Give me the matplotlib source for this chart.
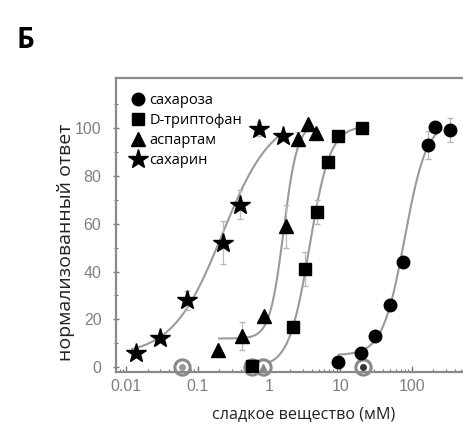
import numpy as np
import matplotlib.pyplot as plt
from matplotlib.ticker import FixedLocator, LogLocator, NullFormatter

plt.rcParams['font.family'] = ['Open Sans', 'DejaVu Sans']

# concentrations (mM) and normalised responses
sucrose_x = [9.4, 19.3, 30.7, 50, 75, 168, 213, 346]
sucrose_y = [2, 6, 13, 26, 44, 93, 100.5, 99.4]
sucrose_err = [0, 0, 0, 0, 0, 6, 0, 5]

trp_x = [0.58, 2.15, 3.2, 4.67, 6.8, 9.4, 20.4]
trp_y = [0.5, 17, 41, 65, 86, 96.6, 100.3]
trp_err = [0, 0, 7, 5, 0, 0, 0]

asp_x = [0.195, 0.414, 0.85, 1.73, 2.55, 3.56, 4.56]
asp_y = [7, 13, 21.5, 59, 95.5, 101.8, 98]
asp_err = [0, 6, 0, 9, 3, 0, 0]

sac_x = [0.0136, 0.030, 0.070, 0.229, 0.392, 0.73, 1.56]
sac_y = [6, 12, 28, 52, 68, 99.7, 96.6]
sac_err = [0, 0, 4, 9, 6, 3, 0]

# Hill fit parameters: bottom, top, EC50, slope, x range of the fitted line
sucrose_fit = (5, 103, 80, 2.8, 9.5, 260)
trp_fit = (0, 101, 3.7, 3.0, 0.9, 20)
asp_fit = (12, 102, 1.6, 4.5, 0.2, 3.3)
sac_fit = (5, 106, 0.22, 1.25, 0.012, 1.45)

# detection thresholds on the x axis
thr_x = [0.06, 0.58, 0.83, 21]
thr_inner = ['o', 's', '^', 'o']
thr_inner_color = ['#999999', '#888888', '#888888', '#333333']

labels = ['сахароза', 'D-триптофан', 'аспартам', 'сахарин']


def hill(x, bottom, top, ec50, n):
    return bottom + (top - bottom) / (1 + (ec50 / x) ** n)


fig = plt.figure(figsize=(4.64, 4.34), dpi=100)
ax = fig.add_axes([0.25, 0.143, 0.75, 0.677])

grey = '#9a9a9a'
series = [
    (sucrose_x, sucrose_y, sucrose_err, sucrose_fit, 'o', 9),
    (trp_x, trp_y, trp_err, trp_fit, 's', 8.5),
    (asp_x, asp_y, asp_err, asp_fit, '^', 10),
    (sac_x, sac_y, sac_err, sac_fit, '*', 15),
]

for (xs, ys, err, fit, m, ms), lab in zip(series, labels):
    b, t, ec, n, x0, x1 = fit
    xx = np.logspace(np.log10(x0), np.log10(x1), 200)
    ax.plot(xx, hill(xx, b, t, ec, n), color=grey, lw=1.5, zorder=1)
    ax.errorbar(xs, ys, yerr=err, fmt='none', ecolor='#b8b8b8',
                elinewidth=0.9, capsize=2.5, zorder=2)
    ax.plot(xs, ys, ls='none', marker=m, ms=ms, color='black',
            label=lab, zorder=3)

for x, m, c in zip(thr_x, thr_inner, thr_inner_color):
    ax.plot([x], [0], marker='o', ms=11, mfc='white', mec='#8a8a8a',
            mew=2.2, ls='none', zorder=2.5, clip_on=False)
    ax.plot([x], [0], marker=m, ms=4, color=c, ls='none', zorder=2.6,
            clip_on=False)

ax.set_xscale('log')
ax.set_xlim(0.00714, 543)
ax.set_ylim(-2, 121)

ax.xaxis.set_major_locator(FixedLocator([0.01, 0.1, 1, 10, 100]))
ax.set_xticklabels(['0.01', '0.1', '1', '10', '100'])
ax.xaxis.set_minor_locator(LogLocator(base=10, subs=np.arange(2, 10)))
ax.xaxis.set_minor_formatter(NullFormatter())
ax.set_yticks([0, 20, 40, 60, 80, 100])
ax.set_yticks(np.arange(10, 120, 20), minor=True)

ax.tick_params(axis='both', which='both', colors='#777777',
               labelcolor='#808080', labelsize=11.5)
ax.tick_params(axis='x', which='major', direction='in', length=4, width=1, pad=5)
ax.tick_params(axis='x', which='minor', direction='in', length=2.5, width=0.8)
ax.tick_params(axis='y', which='major', direction='inout', length=5, width=1,
               pad=8)
ax.tick_params(axis='y', which='minor', direction='inout', length=3, width=0.8)
for lab in ax.get_xticklabels() + ax.get_yticklabels():
    lab.set_family(['Liberation Sans', 'DejaVu Sans'])

for side in ['left', 'bottom', 'top']:
    ax.spines[side].set_color('#8a8a8a')
    ax.spines[side].set_linewidth(1.6)
ax.spines['right'].set_visible(False)

ax.set_xlabel('сладкое вещество (мМ)', fontsize=11.6, color='#222222')
ax.xaxis.set_label_coords(0.54, -0.115)
ax.set_ylabel('нормализованный ответ', fontsize=14, color='#222222')
ax.yaxis.set_label_coords(-0.118, 0.442)

leg = ax.legend(loc='upper left', frameon=False, fontsize=10.5,
                handletextpad=0.3, labelspacing=0.35, borderaxespad=0.6,
                handlelength=1.0, borderpad=0.4)

fig.text(0.035, 0.94, 'Б', fontsize=20, fontweight='bold', color='black',
         va='top', ha='left')

fig.savefig('out.png', dpi=100)
